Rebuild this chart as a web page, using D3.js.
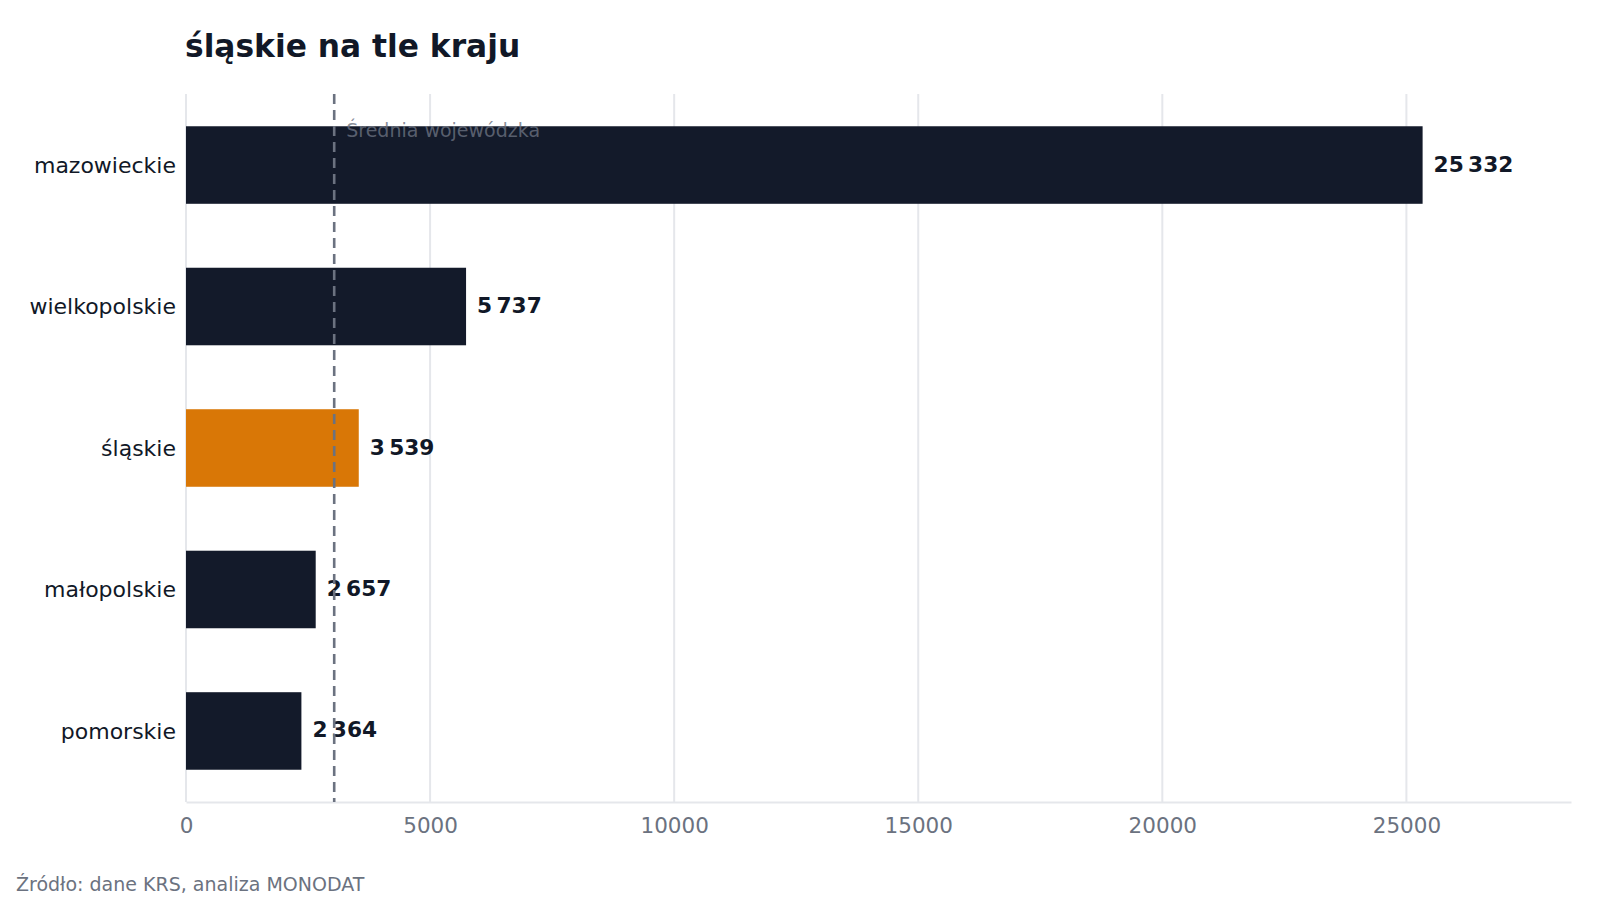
<!DOCTYPE html>
<html lang="pl">
<head>
<meta charset="utf-8">
<script src="https://cdn.jsdelivr.net/npm/d3@7"></script>
<style>
  html, body { margin: 0; padding: 0; background: #ffffff; }
  svg { display: block; font-family: "DejaVu Sans", sans-serif; }
</style>
</head>
<body>
<svg id="chart" width="1600" height="900" viewBox="0 0 1600 900"></svg>
<script>
// data
const regions = ["mazowieckie", "wielkopolskie", "śląskie", "małopolskie", "pomorskie"];
const values = [25332, 5737, 3539, 2657, 2364];
const highlighted = "śląskie";
const regionalMean = 3036;
const xTicks = [0, 5000, 10000, 15000, 20000, 25000];
const titleText = "śląskie na tle kraju";
const meanLabel = "Średnia wojewódzka";
const sourceText = "Źródło: dane KRS, analiza MONODAT";

const svg = d3.select("#chart");
const margin = {top: 94, right: 29, bottom: 98, left: 186};
const width = 1600, height = 900;

const data = regions.map((r, i) => ({region: r, value: values[i]}));

const x = d3.scaleLinear()
	.domain([0, d3.max(values) * 1.12])
	.range([margin.left, width - margin.right]);

const y = d3.scaleBand()
	.domain(regions)
	.range([margin.top, height - margin.bottom])
	.paddingInner(0.452)
	.paddingOuter(0.228);

const pl = d3.formatLocale({decimal: ",", thousands: "\u202F", grouping: [3], currency: ["", " zł"]});
const fmt = pl.format(",d");

// title
svg.append("text")
	.attr("x", margin.left - 1)
	.attr("y", 57)
	.attr("font-size", 31.3)
	.attr("font-weight", "bold")
	.attr("fill", "#111827")
	.text(titleText);

// grid lines
svg.append("g")
	.selectAll("line")
	.data(xTicks)
	.enter().append("line")
	.attr("x1", d => x(d)).attr("x2", d => x(d))
	.attr("y1", margin.top).attr("y2", height - margin.bottom)
	.attr("stroke", "#e5e7eb")
	.attr("stroke-width", 2);

// bottom axis
const xAxis = d3.axisBottom(x).tickValues(xTicks).tickSize(0).tickPadding(16).tickFormat(d3.format("d"));
const axisG = svg.append("g")
	.attr("transform", "translate(0," + (height - margin.bottom) + ")")
	.call(xAxis);
axisG.select(".domain").attr("stroke", "#e5e7eb").attr("stroke-width", 2);
axisG.selectAll("text")
	.attr("font-size", 21.5)
	.attr("font-family", "DejaVu Sans, sans-serif")
	.attr("fill", "#6b7280");

// category labels
svg.append("g")
	.selectAll("text")
	.data(regions)
	.enter().append("text")
	.attr("x", margin.left - 10)
	.attr("y", d => y(d) + y.bandwidth() / 2)
	.attr("dy", "0.35em")
	.attr("text-anchor", "end")
	.attr("font-size", 22)
	.attr("fill", "#111827")
	.text(d => d);

// bars
svg.append("g")
	.selectAll("rect")
	.data(data)
	.enter().append("rect")
	.attr("x", x(0))
	.attr("y", d => y(d.region))
	.attr("width", d => x(d.value) - x(0))
	.attr("height", y.bandwidth())
	.attr("fill", d => d.region === highlighted ? "#d97706" : "#131a2a");

// value labels
svg.append("g")
	.selectAll("text")
	.data(data)
	.enter().append("text")
	.attr("x", d => x(d.value) + 11)
	.attr("y", d => y(d.region) + y.bandwidth() / 2)
	.attr("dy", "0.3em")
	.attr("font-size", 21.7)
	.attr("font-weight", "bold")
	.attr("fill", "#111827")
	.text(d => fmt(d.value));

// mean line
svg.append("line")
	.attr("x1", x(regionalMean)).attr("x2", x(regionalMean))
	.attr("y1", margin.top).attr("y2", height - margin.bottom)
	.attr("stroke", "#6b7280")
	.attr("stroke-width", 2.6)
	.attr("stroke-dasharray", "10,6");

svg.append("text")
	.attr("x", x(regionalMean) + 12)
	.attr("y", 137)
	.attr("font-size", 19)
	.attr("fill", "#6b7280")
	.attr("fill-opacity", 0.8)
	.text(meanLabel);

// source
svg.append("text")
	.attr("x", 16)
	.attr("y", 891)
	.attr("font-size", 19)
	.attr("fill", "#6b7280")
	.text(sourceText);
</script>
</body>
</html>
